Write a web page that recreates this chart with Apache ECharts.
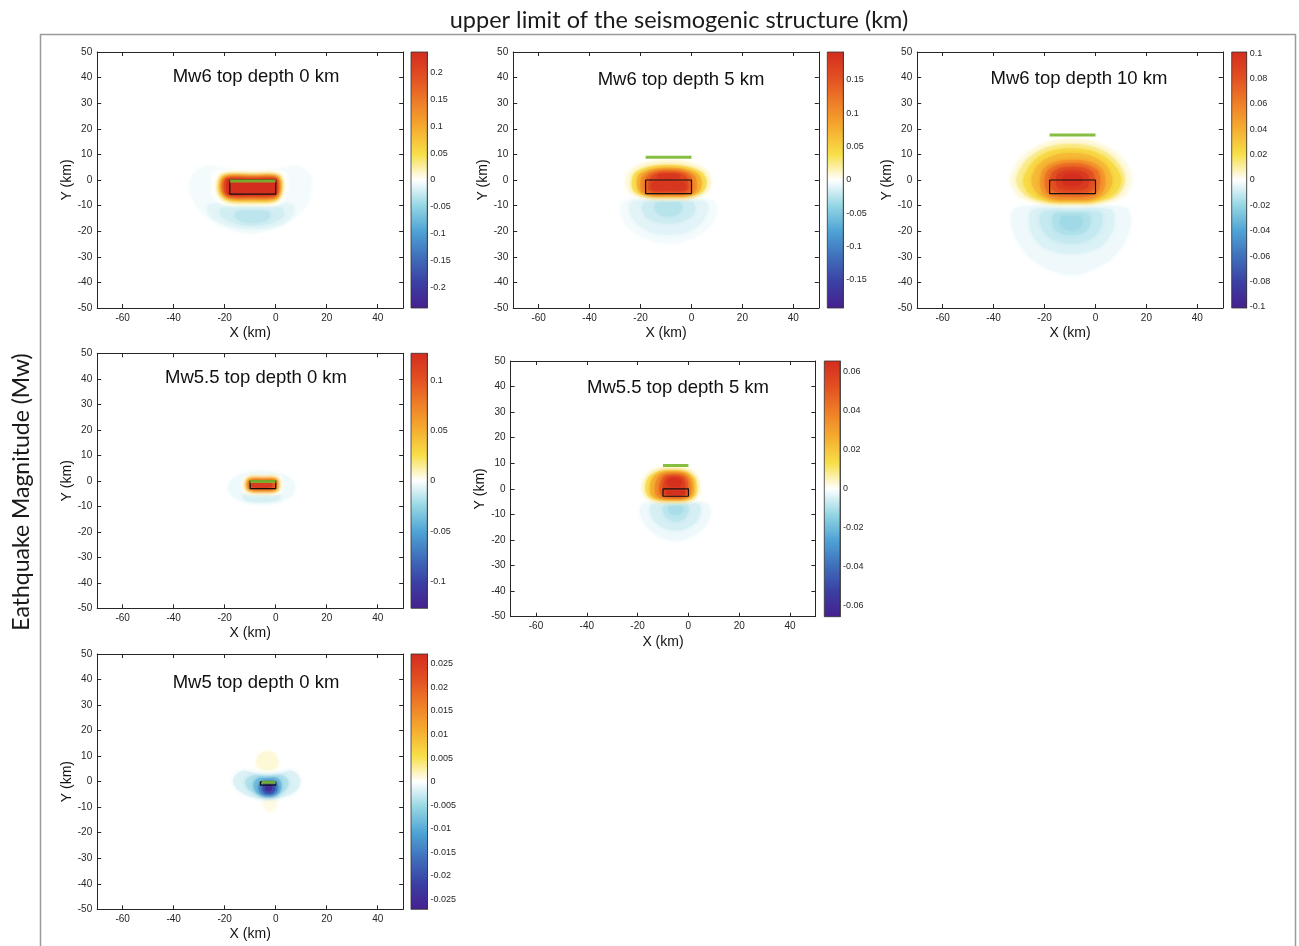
<!DOCTYPE html>
<html>
<head>
<meta charset="utf-8">
<script src="https://cdn.jsdelivr.net/npm/echarts@6.0.0/dist/echarts.min.js"></script>
<style>
  html, body { margin: 0; padding: 0; background: #ffffff; }
  #chart { width: 1299px; height: 946px; }
</style>
</head>
<body>
<div id="chart"></div>
<script>
// ---------------------------------------------------------------------------
// Data: coseismic field maps for six rupture scenarios
// ---------------------------------------------------------------------------
const PANEL_TITLES = [
  'Mw6 top depth 0 km', 'Mw6 top depth 5 km', 'Mw6 top depth 10 km',
  'Mw5.5 top depth 0 km', 'Mw5.5 top depth 5 km', 'Mw5 top depth 0 km'
];
const X_TICKS = [-60, -40, -20, 0, 20, 40];
const X_RANGE = [-70, 50];
const Y_RANGE = [-50, 50];

// colour scale limits and colorbar tick values per panel
const CBAR_MAX = [0.239, 0.192, 0.101, 0.1266, 0.0655, 0.0271];
const CBAR_TICKS = [
  [-0.2, -0.15, -0.1, -0.05, 0, 0.05, 0.1, 0.15, 0.2],
  [-0.15, -0.1, -0.05, 0, 0.05, 0.1, 0.15],
  [-0.1, -0.08, -0.06, -0.04, -0.02, 0, 0.02, 0.04, 0.06, 0.08, 0.1],
  [-0.1, -0.05, 0, 0.05, 0.1],
  [-0.06, -0.04, -0.02, 0, 0.02, 0.04, 0.06],
  [-0.025, -0.02, -0.015, -0.01, -0.005, 0, 0.005, 0.01, 0.015, 0.02, 0.025]
];

// fault plane projection [xMin, xMax, yMin, yMax] (km)
const FAULT_BOX = [
  [-18, 0, -5.5, 0], [-18, 0, -5.3, 0], [-18, 0, -5.3, 0],
  [-10, 0, -3.1, 0], [-10, 0, -2.9, 0], [-6, 0, -1.4, 0]
];
// surface trace of the fault plane [xMin, xMax, y] (km)
const SURFACE_TRACE = [
  [-18, 0, -0.4], [-18, 0, 8.9], [-18, 0, 17.6],
  [-10, 0, -0.3], [-10, 0, 9.1], [-5.5, 0, -0.2]
];

// filled contour levels: [value, outline [[x, y], ...]] painted in order
const FIELD_MW6_D0 = [
  [-0.005, [[-28,5.2],[-20,4.5],[-9,3],[2,4.5],[9,5.2],[13.5,2],[14,-3],[12,-10],[6,-15.5],[-3,-19.5],[-10,-20.8],[-17,-19.5],[-26,-15],[-31,-10],[-33.8,-3],[-32.5,2]]],
  [-0.012, [[-26,-9.5],[-9,-9.5],[6,-9.5],[7,-13],[2,-17.5],[-9,-19.2],[-20,-17.5],[-26.5,-13]]],
  [-0.02, [[-21,-10.8],[-9,-10.5],[2,-10.8],[3,-14],[-2,-17],[-9,-18],[-16,-17],[-21.5,-14]]],
  [-0.03, [[-15,-12.3],[-9,-12],[-3,-12.3],[-2,-14.3],[-5,-16.3],[-9,-16.8],[-13,-16.3],[-16,-14.3]]],
  [0, [[-24,3.2],[-9,3.5],[3.5,3.2],[4.5,0],[4,-6],[1,-9.6],[-9,-10],[-20,-9.6],[-24,-7],[-25,-1]]],
  [0.012, [[-21,2.3],[-9,2.5],[1,2.3],[2.8,0],[2.5,-5],[0,-8.5],[-9,-9.2],[-19,-8.8],[-22.5,-6],[-23,-1]]],
  [0.045, [[-20.5,1.8],[-9,2],[0.5,1.8],[2.2,-0.3],[2,-5],[-0.3,-8],[-9,-8.5],[-18.5,-8],[-21.8,-5.5],[-22.3,-1]]],
  [0.09, [[-20,1.3],[-9,1.5],[0.3,1.3],[1.6,-0.5],[1.4,-5],[-0.5,-7.3],[-9,-7.7],[-18,-7.3],[-21.2,-5],[-21.6,-1]]],
  [0.14, [[-19.5,1],[-9,1],[0,1],[1.1,-0.5],[1,-5],[-0.6,-6.8],[-9,-7],[-17.8,-6.8],[-20.6,-5],[-21,-1]]],
  [0.19, [[-19,0.7],[-9,0.7],[0,0.7],[0.7,-0.5],[0.6,-5],[-0.6,-6.2],[-9,-6.4],[-18,-6.2],[-20,-4.8],[-20.2,-0.5]]],
  [0.235, [[-18.8,0.4],[-9,0.4],[0,0.4],[0.4,-0.3],[0.4,-5.3],[-0.5,-5.8],[-9,-5.9],[-18.5,-5.8],[-19.3,-4.5],[-19.3,-0.5]]]
];

const FIELD_MW6_D5 = [
  [-0.004, [[-26,-8],[-9,-7.8],[8,-8],[10,-11],[8,-17],[1,-22.5],[-9,-24.8],[-19,-22.5],[-26,-17],[-28,-11]]],
  [-0.01, [[-23,-8.3],[-9,-8.1],[5,-8.3],[6.5,-11],[4,-16.5],[-2,-20.5],[-9,-21.5],[-16,-20.5],[-22,-16.5],[-24.5,-11]]],
  [-0.018, [[-18,-8.5],[-9,-8.3],[0,-8.5],[1.5,-11],[-1,-15],[-9,-17],[-17,-15],[-19.5,-11]]],
  [-0.026, [[-13.5,-8.8],[-9,-8.6],[-4.5,-8.8],[-3.5,-11],[-5.5,-13.5],[-9,-14.3],[-12.5,-13.5],[-14.5,-11]]],
  [0.006, [[-17,7],[-9,7.8],[-1,7],[6,4],[8,-0.5],[6,-5],[-1,-7],[-9,-7.3],[-17,-7],[-24,-5],[-26,-0.5],[-24,4]]],
  [0.035, [[-16,5.3],[-9,5.9],[-2,5.3],[4,3],[6,-0.5],[4.5,-4.5],[-1,-6.3],[-9,-6.6],[-17,-6.3],[-22.5,-4.5],[-23.5,-0.5],[-22,3]]],
  [0.07, [[-15,4.3],[-9,4.8],[-3,4.3],[2.5,2.3],[4,-0.8],[3,-4.5],[-1.5,-6],[-9,-6.2],[-16.5,-6],[-20.5,-4.5],[-21.5,-0.8],[-20.5,2.3]]],
  [0.1, [[-14.5,3.6],[-9,4],[-3.5,3.6],[1,1.8],[2,-1],[1.5,-4.5],[-1.5,-5.7],[-9,-5.9],[-16.5,-5.7],[-19.5,-4.5],[-20,-1],[-19,1.8]]],
  [0.13, [[-14,3],[-9,3.3],[-4,3],[-0.3,1.5],[0.3,-1.5],[0,-4.6],[-2,-5.3],[-9,-5.4],[-16,-5.3],[-18,-4.6],[-18.5,-1.5],[-17.5,1.5]]],
  [0.16, [[-13.5,2.4],[-9,2.7],[-4.5,2.4],[-1.8,1],[-1.2,-2],[-1.5,-4.2],[-9,-4.6],[-16.5,-4.2],[-17,-2],[-16,1]]],
  [0.18, [[-12.5,2.2],[-9,2.4],[-5.5,2.2],[-4.5,1.3],[-5.5,0.5],[-9,0.3],[-12.5,0.5],[-13.5,1.3]]],
  [0.18, [[-15,-0.8],[-9,-0.7],[-3,-0.8],[-2,-2.3],[-3,-3.9],[-9,-4],[-15,-3.9],[-16,-2.3]]]
];

const FIELD_MW6_D10 = [
  [-0.003, [[-31,-10.8],[-9.5,-10.3],[12,-10.8],[13.8,-15],[12.5,-22],[7,-30],[-1,-35],[-9.5,-37.2],[-18,-35],[-26,-30],[-31.5,-22],[-33.2,-15]]],
  [-0.007, [[-24.5,-11.5],[-9.5,-11.2],[6,-11.5],[7.3,-15],[6,-21],[1,-26.5],[-9.5,-28.8],[-20,-26.5],[-25,-21],[-26,-15]]],
  [-0.011, [[-20.5,-12.5],[-9.5,-12.2],[1.5,-12.5],[2.7,-15.5],[1,-20.5],[-3.5,-23.8],[-9.5,-24.8],[-15.5,-23.8],[-20,-20.5],[-22,-15.5]]],
  [-0.015, [[-16,-13.2],[-9.5,-12.9],[-3,-13.2],[-2,-16],[-3.5,-19.8],[-9.5,-21.5],[-15.5,-19.8],[-17,-16]]],
  [-0.018, [[-13,-14.3],[-9.5,-14],[-6,-14.3],[-5,-16.5],[-6.5,-18.8],[-9.5,-19.5],[-12.5,-18.8],[-14,-16.5]]],
  [0.003, [[-20,14.5],[-9.5,16.3],[1,14.5],[9,10],[13.5,4],[14.3,-1],[11,-6.5],[2,-9],[-9.5,-9.3],[-21,-9],[-30,-6.5],[-33.5,-1],[-32.5,4],[-28,10]]],
  [0.012, [[-19,12.8],[-9.5,14.2],[0,12.8],[7,8.8],[10.8,3.5],[11.5,-1],[8.5,-6],[1,-8.5],[-9.5,-8.9],[-20,-8.5],[-27.5,-6],[-31,-1],[-30,3.5],[-26,8.8]]],
  [0.022, [[-18,11.2],[-9.5,12.4],[-1,11.2],[5.5,7.6],[9.2,3],[10,-1.2],[7,-5.8],[0,-8.2],[-9.5,-8.5],[-19,-8.2],[-25.5,-5.8],[-28.3,-1.2],[-27.3,3],[-24,7.6]]],
  [0.035, [[-16.5,9.5],[-9.3,10.5],[-2,9.5],[3.5,6.4],[6,2.5],[6.5,-1.5],[4,-5.5],[-1,-7.8],[-9.3,-8.1],[-17.5,-7.8],[-22.5,-5.5],[-25,-1.5],[-24.5,2.5],[-22,6.4]]],
  [0.048, [[-15.5,7.2],[-9,7.9],[-2.5,7.2],[2,4.8],[3.6,1.8],[3.8,-2],[2,-5.6],[-2,-7.5],[-9,-7.8],[-16,-7.5],[-20.2,-5.6],[-21.8,-2],[-21.5,1.8],[-20,4.8]]],
  [0.065, [[-14.5,6],[-9,6.6],[-3.5,6],[0.5,4],[1.8,1.2],[1.6,-2.5],[0,-5.4],[-3,-6.4],[-9,-6.6],[-15,-6.4],[-18.3,-5.4],[-19.8,-2.5],[-19.8,1.2],[-18.5,4]]],
  [0.08, [[-13.5,4.7],[-9,5.2],[-4.5,4.7],[-1.2,3],[-0.4,0.5],[-0.6,-2.8],[-2.5,-4.6],[-9,-5.1],[-15.5,-4.6],[-17.5,-2.8],[-17.8,0.5],[-16.8,3]]],
  [0.092, [[-12.5,3.4],[-9,3.8],[-5.5,3.4],[-3,2],[-2.5,-0.5],[-3.3,-3],[-9,-3.9],[-14.7,-3],[-15.5,-0.5],[-15,2]]],
  [0.1, [[-11,2.3],[-7,2.3],[-5.2,0.8],[-5.5,-1.5],[-9,-2.2],[-12.5,-1.5],[-13,0.8]]]
];

const FIELD_MW55_D0 = [
  [-0.004, [[-12,3],[-5.5,3.6],[1,3],[6,0.5],[7.6,-2.5],[6,-6],[1,-8.3],[-5.5,-8.8],[-12,-8.3],[-17,-6],[-18.6,-2.5],[-17,0.5]]],
  [-0.01, [[-11,-4.3],[-5.5,-4.2],[0,-4.3],[2,-6],[0,-7.7],[-5.5,-8.2],[-11,-7.7],[-13,-6]]],
  [0, [[-12,1.8],[-5,2],[1.8,1.8],[2.8,-1.5],[1.8,-5],[-5,-5.4],[-12,-5],[-13.2,-1.5]]],
  [0.01, [[-11,1.1],[-5,1.2],[0.6,1.1],[1.4,-1.5],[0.6,-4.1],[-5,-4.5],[-11,-4.1],[-12,-1.5]]],
  [0.035, [[-10.7,0.8],[-5,0.9],[0.3,0.8],[1,-1.5],[0.3,-3.7],[-5,-4.1],[-10.7,-3.7],[-11.5,-1.5]]],
  [0.065, [[-10.3,0.4],[-5,0.5],[0,0.4],[0.5,-1.5],[0,-3.3],[-5,-3.7],[-10.3,-3.3],[-11,-1.5]]],
  [0.09, [[-9.8,0],[-5,0],[-0.3,0],[0.1,-1.5],[-0.3,-2.9],[-5,-3.2],[-9.8,-2.9],[-10.4,-1.5]]],
  [0.115, [[-9,-0.8],[-5,-0.7],[-1.8,-0.8],[-1.2,-1.7],[-1.8,-2.5],[-5,-2.7],[-9,-2.5],[-9.8,-1.7]]]
];

const FIELD_MW55_D5 = [
  [-0.002, [[-17.5,-5.6],[-5,-5.4],[7,-5.6],[8.7,-8.5],[7,-14],[1.5,-18.5],[-5,-20.2],[-11.5,-18.5],[-17,-14],[-19.2,-8.5]]],
  [-0.005, [[-14,-5.9],[-5,-5.7],[3.8,-5.9],[4.8,-8.5],[3,-13],[-1,-15.5],[-5,-16.3],[-9,-15.5],[-13,-13],[-15.2,-8.5]]],
  [-0.008, [[-9.3,-6.2],[-5,-6],[-0.7,-6.2],[0.2,-8.5],[-1.5,-11.5],[-5,-12.8],[-8.5,-11.5],[-10.2,-8.5]]],
  [-0.0105, [[-7.5,-6.8],[-5,-6.6],[-2.5,-6.8],[-2,-8.3],[-3,-9.6],[-5,-10.1],[-7,-9.6],[-8,-8.3]]],
  [0.002, [[-13,8],[-6.5,8.7],[0,8],[3.6,5],[4.6,1],[3.8,-3],[0,-4.9],[-6.5,-5.1],[-13,-4.9],[-17.4,-3],[-18.4,1],[-17,5]]],
  [0.012, [[-12,6.8],[-6.5,7.4],[-1,6.8],[2.4,4.4],[3.3,0.8],[2.6,-2.7],[-0.5,-4.3],[-6.5,-4.6],[-12.5,-4.3],[-16,-2.7],[-17,0.8],[-15.8,4.4]]],
  [0.024, [[-11.5,6.3],[-6.3,6.8],[-1.3,6.3],[1.5,4.1],[2.3,0.8],[1.8,-2.5],[-0.8,-3.9],[-6.3,-4.2],[-12,-3.9],[-14.7,-2.5],[-15.2,0.8],[-14.2,4.1]]],
  [0.035, [[-10.5,5.6],[-6,6.1],[-1.5,5.6],[0.6,3.6],[1.3,0.6],[0.8,-2.4],[-1.3,-3.5],[-6,-3.8],[-10.8,-3.5],[-12.7,-2.4],[-13.2,0.6],[-12.5,3.6]]],
  [0.047, [[-9.5,5],[-5.8,5.4],[-2,5],[-0.4,3.2],[-0.1,0.3],[-0.5,-2.2],[-2.5,-2.9],[-5.8,-3.1],[-9.5,-2.9],[-11,-2.2],[-11.4,0.3],[-10.8,3.2]]],
  [0.057, [[-8.5,4.4],[-5.6,4.8],[-2.7,4.4],[-1.4,2.5],[-1.3,0],[-1.6,-2],[-5.6,-2.5],[-9.5,-2],[-10,0],[-9.6,2.5]]],
  [0.064, [[-7.5,3.9],[-5.5,4.2],[-3.5,3.9],[-2.6,2.5],[-3.5,1.1],[-5.5,0.8],[-7.5,1.1],[-8.5,2.5]]],
  [0.064, [[-8.5,-0.8],[-5,-0.7],[-1.5,-0.8],[-1,-1.5],[-1.5,-2.2],[-5,-2.3],[-8.5,-2.2],[-9,-1.5]]]
];

const FIELD_MW5_D0 = [
  [0.0012, [[-5.5,11.2],[-3.2,11.8],[-0.8,11.2],[0.8,8.5],[0.3,5.5],[-3.2,4.5],[-6.8,5.5],[-7.5,8.5]]],
  [0.0008, [[-3.6,-6],[-2.2,-5.8],[-0.8,-6],[0.4,-8.5],[-0.5,-11],[-2.2,-11.8],[-3.8,-11],[-4.8,-8.5]]],
  [-0.0018, [[-13,4.2],[-7.5,3],[-3.3,2.5],[1,3],[6.5,4.2],[9.5,1],[8.5,-3],[3,-6],[-3.3,-6.6],[-9.5,-6],[-15,-3],[-16.6,1]]],
  [-0.004, [[-9,2.4],[-3.3,2],[2.5,2.4],[5,0],[3.5,-3.5],[-3.3,-5.6],[-10,-3.5],[-12,0]]],
  [-0.008, [[-7,1.3],[-3.2,1.4],[0.8,1.3],[2.3,-1.5],[1,-4.8],[-2.9,-5.9],[-7,-4.8],[-8.8,-1.5]]],
  [-0.013, [[-5.5,0.2],[-2.9,0.4],[-0.2,0.2],[1,-2.3],[0,-4.5],[-2.9,-5.2],[-5.8,-4.5],[-6.8,-2.3]]],
  [-0.019, [[-4.2,-0.5],[-2.9,-0.4],[-1,-0.5],[0,-2.5],[-1,-4.3],[-2.9,-4.8],[-4.5,-4.3],[-5.3,-2.5]]],
  [-0.025, [[-3.6,-1.3],[-2.9,-1.2],[-2,-1.3],[-1.3,-2.5],[-2,-3.6],[-2.9,-3.9],[-3.8,-3.6],[-4.3,-2.5]]]
];

const FIELDS = [FIELD_MW6_D0, FIELD_MW6_D5, FIELD_MW6_D10, FIELD_MW55_D0, FIELD_MW55_D5, FIELD_MW5_D0];

// diverging colour scale, from most negative to most positive
const COLOR_RAMP = ['#46208e', '#3b3fa3', '#3f6fbb', '#4ea3d5', '#94d6e3', '#ffffff',
                    '#f7df48', '#f5ad30', '#ef7e27', '#e24f22', '#d32c1e'];

// ---------------------------------------------------------------------------
// Layout (pixels)
// ---------------------------------------------------------------------------
const LAYOUT = {
  plot: [
    [97.2, 52, 306, 256], [513.2, 52, 305.6, 256], [917.2, 52, 305.6, 256],
    [97.2, 353.3, 306, 255], [510.6, 361, 304.8, 255.7], [97.2, 654, 306, 255.3]
  ],
  cbar: [
    [411, 52, 16.3, 256], [827.3, 52, 16, 256], [1231.7, 52, 15, 256],
    [411, 353.3, 16.3, 255], [824.3, 361, 15.7, 255.7], [411, 654, 16.5, 255.3]
  ],
  titleAt: [[256, 77], [681, 80], [1079, 79], [256, 378], [678, 388], [256, 683]]
};

const FONT = '"Liberation Sans", Arial, Helvetica, sans-serif';
const HEAD_FONT = 'Lato, "Open Sans", sans-serif';
const AXIS_COLOR = '#262626';

const grids = [], xAxes = [], yAxes = [], series = [], visualMaps = [], graphics = [];

function plotXAxis(gridIndex, position, withLabels) {
  return {
    type: 'value', gridIndex, position, min: X_RANGE[0], max: X_RANGE[1],
    axisLine: { show: true, onZero: false, lineStyle: { color: AXIS_COLOR, width: 1 } },
    axisTick: { show: true, inside: true, length: 4, customValues: X_TICKS, lineStyle: { color: AXIS_COLOR } },
    axisLabel: withLabels
      ? { show: true, customValues: X_TICKS, fontSize: 10, color: AXIS_COLOR, margin: 5, fontFamily: FONT }
      : { show: false },
    splitLine: { show: false },
    name: withLabels ? 'X (km)' : '',
    nameLocation: 'middle', nameGap: 18,
    nameTextStyle: { fontSize: 14, color: '#111', fontFamily: FONT }
  };
}
function plotYAxis(gridIndex, position, withLabels) {
  return {
    type: 'value', gridIndex, position, min: Y_RANGE[0], max: Y_RANGE[1], interval: 10,
    axisLine: { show: true, onZero: false, lineStyle: { color: AXIS_COLOR, width: 1 } },
    axisTick: { show: true, inside: true, length: 4, lineStyle: { color: AXIS_COLOR } },
    axisLabel: withLabels
      ? { show: true, fontSize: 10, color: AXIS_COLOR, margin: 5, fontFamily: FONT }
      : { show: false },
    splitLine: { show: false },
    name: withLabels ? 'Y (km)' : '',
    nameLocation: 'middle', nameGap: 23,
    nameTextStyle: { fontSize: 14, color: '#111', fontFamily: FONT }
  };
}

const gradientStops = COLOR_RAMP.map((c, i) => ({ offset: i / (COLOR_RAMP.length - 1), color: c }));

for (let k = 0; k < 6; k++) {
  const pb = LAYOUT.plot[k], cb = LAYOUT.cbar[k];
  const gPlot = grids.length;
  grids.push({ left: pb[0], top: pb[1], width: pb[2], height: pb[3] });
  const gBar = grids.length;
  grids.push({ left: cb[0], top: cb[1], width: cb[2], height: cb[3] });

  const xBottom = xAxes.length;
  xAxes.push(plotXAxis(gPlot, 'bottom', true));
  xAxes.push(plotXAxis(gPlot, 'top', false));
  const xBar = xAxes.length;
  xAxes.push({ type: 'value', gridIndex: gBar, min: 0, max: 1, show: false });

  const yLeft = yAxes.length;
  yAxes.push(plotYAxis(gPlot, 'left', true));
  yAxes.push(plotYAxis(gPlot, 'right', false));
  const yBar = yAxes.length;
  const cmax = CBAR_MAX[k];
  yAxes.push({
    type: 'value', gridIndex: gBar, position: 'right', min: -cmax, max: cmax,
    axisLine: { show: true, onZero: false, lineStyle: { color: '#333', width: 0.8 } },
    axisTick: { show: true, inside: true, length: 3, customValues: CBAR_TICKS[k], lineStyle: { color: '#222' } },
    axisLabel: { show: true, customValues: CBAR_TICKS[k], fontSize: 9, color: AXIS_COLOR, margin: 3, fontFamily: FONT },
    splitLine: { show: false }
  });

  // filled contour field, each level softened at its edge
  const field = FIELDS[k];
  const fieldIndex = series.length;
  series.push({
    type: 'custom', coordinateSystem: 'cartesian2d',
    xAxisIndex: xBottom, yAxisIndex: yLeft,
    data: field.map(lvl => [lvl[1][0][0], lvl[1][0][1], lvl[0]]),
    encode: { x: 0, y: 1 },
    silent: true, z: 1,
    renderItem: (params, api) => {
      const pts = field[params.dataIndex][1].map(p => api.coord(p));
      const fill = api.visual('color');
      return {
        type: 'polygon',
        shape: { points: pts, smooth: 0.35 },
        style: { fill: fill, stroke: null, shadowBlur: 5, shadowColor: fill }
      };
    }
  });
  visualMaps.push({
    type: 'continuous', show: false, seriesIndex: fieldIndex, dimension: 2,
    min: -cmax, max: cmax, inRange: { color: COLOR_RAMP }
  });

  // fault plane outline
  const b = FAULT_BOX[k];
  series.push({
    type: 'line', xAxisIndex: xBottom, yAxisIndex: yLeft, symbol: 'none', silent: true, z: 3,
    data: [[b[0], b[3]], [b[1], b[3]], [b[1], b[2]], [b[0], b[2]], [b[0], b[3]]],
    lineStyle: { color: '#111', width: 1.2 }
  });
  // surface trace
  const t = SURFACE_TRACE[k];
  series.push({
    type: 'line', xAxisIndex: xBottom, yAxisIndex: yLeft, symbol: 'none', silent: true, z: 4,
    data: [[t[0], t[2]], [t[1], t[2]]],
    lineStyle: { color: '#79b72e', width: 3, opacity: 0.9, cap: 'butt' }
  });

  // colorbar
  series.push({
    type: 'custom', coordinateSystem: 'cartesian2d',
    xAxisIndex: xBar, yAxisIndex: yBar, silent: true,
    data: [[0.5, -cmax, cmax]],
    encode: { x: 0, y: 1 },
    renderItem: (params, api) => {
      const a = api.coord([0, api.value(2)]);
      const c = api.coord([1, api.value(1)]);
      return {
        type: 'rect',
        shape: { x: a[0], y: a[1], width: c[0] - a[0], height: c[1] - a[1] },
        style: {
          fill: new echarts.graphic.LinearGradient(0, 1, 0, 0, gradientStops),
          stroke: '#333', lineWidth: 0.8
        }
      };
    }
  });

  graphics.push({
    type: 'text', x: LAYOUT.titleAt[k][0], y: LAYOUT.titleAt[k][1], z: 10,
    style: {
      text: PANEL_TITLES[k], fontSize: 18.5, fontFamily: FONT, fill: '#111',
      textAlign: 'center', textVerticalAlign: 'middle'
    }
  });
}

// outer frame and figure-level labels
graphics.push({
  type: 'rect', z: 0,
  shape: { x: 40.5, y: 34.5, width: 1255, height: 930 },
  style: { fill: 'none', stroke: '#9a9a9a', lineWidth: 1.5 }
});
graphics.push({
  type: 'text', x: 679, y: 20, z: 10,
  style: {
    text: 'upper limit of the seismogenic structure (km)', fontSize: 23.5, fontFamily: HEAD_FONT,
    fill: '#1a1a1a', textAlign: 'center', textVerticalAlign: 'middle'
  }
});
graphics.push({
  type: 'text', x: 22, y: 492, rotation: Math.PI / 2, z: 10,
  style: {
    text: 'Eathquake Magnitude (Mw)', fontSize: 23, fontFamily: HEAD_FONT,
    fill: '#1a1a1a', textAlign: 'center', textVerticalAlign: 'middle'
  }
});

const chart = echarts.init(document.getElementById('chart'), null, { renderer: 'canvas' });
chart.setOption({
  animation: false,
  backgroundColor: '#ffffff',
  grid: grids,
  xAxis: xAxes,
  yAxis: yAxes,
  visualMap: visualMaps,
  series: series,
  graphic: { elements: graphics }
});
</script>
</body>
</html>
